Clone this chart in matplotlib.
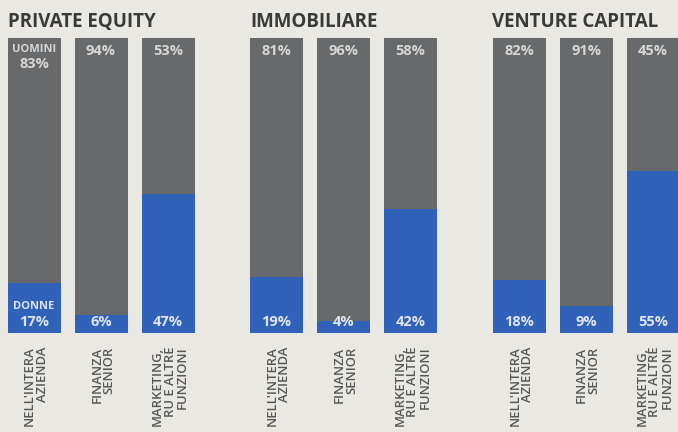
import matplotlib
matplotlib.use("Agg")
import matplotlib.pyplot as plt
import numpy as np

groups = ["PRIVATE EQUITY", "IMMOBILIARE", "VENTURE CAPITAL"]
categories = ["NELL'INTERA\nAZIENDA", "FINANZA\nSENIOR", "MARKETING,\nRU E ALTRE\nFUNZIONI"]
donne = [[17, 6, 47], [19, 4, 42], [18, 9, 55]]
uomini = [[83, 94, 53], [81, 96, 58], [82, 91, 45]]

BG = "#e9e8e3"
GREY = "#67696a"
BLUE = "#2f62b8"
TITLE = "#3a3a3a"
LABEL = "#575757"

fig = plt.figure(figsize=(6.78, 4.32), dpi=100, facecolor=BG)
ax = fig.add_axes([0, (432 - 333) / 432, 1, 295 / 432])
ax.set_facecolor(BG)
ax.set_xlim(0, 678)
ax.set_ylim(0, 100)
ax.axis("off")

font = "Open Sans"
group_step, bar_step, first_center, width = 242.5, 67, 34, 53

for g, gname in enumerate(groups):
    for i, cat in enumerate(categories):
        x = first_center + g * group_step + i * bar_step
        d = donne[g][i]
        u = uomini[g][i]
        ax.bar(x, d, width=width, color=BLUE, linewidth=0)
        ax.bar(x, u, bottom=d, width=width, color=GREY, linewidth=0)
        top_txt = f"{u}%"
        bot_txt = f"{d}%"
        if g == 0 and i == 0:
            ax.text(x, 98.0, "UOMINI", ha="center", va="top", color="#d6d6d6",
                    fontsize=8, fontweight="bold", family=font)
            ax.text(x, 93.5, top_txt, ha="center", va="top", color="#d6d6d6",
                    fontsize=10.5, fontweight="bold", family=font)
            ax.text(x, 7.2, "DONNE", ha="center", va="bottom", color="#dfe4f0",
                    fontsize=8, fontweight="bold", family=font)
        else:
            ax.text(x, 98.0, top_txt, ha="center", va="top", color="#d6d6d6",
                    fontsize=10.5, fontweight="bold", family=font)
        ax.text(x, 1.2, bot_txt, ha="center", va="bottom", color="#dfe4f0",
                fontsize=10.5, fontweight="bold", family=font)
        ax.text(x + 2, -4.6, cat, rotation=90, ha="center", va="top",
                multialignment="right", color=LABEL, fontsize=9.4,
                fontweight="semibold", family=font, linespacing=0.95,
                clip_on=False)
    x0 = first_center + g * group_step - width / 2
    ax.text(x0, 105.5, gname, ha="left", va="center", color=TITLE,
            fontsize=13.5, fontweight="bold", family=font, clip_on=False)

fig.savefig("out.png", dpi=100, facecolor=BG)
